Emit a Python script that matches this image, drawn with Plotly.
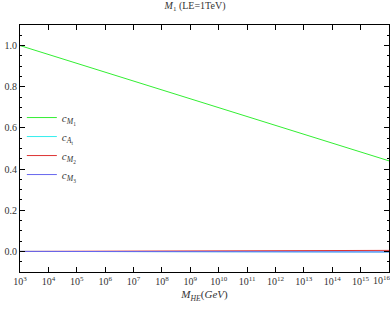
import plotly.graph_objects as go

log_mhe = [3, 5, 7, 9, 11, 13, 16]
c_M1 = [1.0, 0.914, 0.828, 0.742, 0.656, 0.570, 0.44]
c_At = [0.0, -0.0005, -0.001, -0.0015, -0.002, -0.0025, -0.003]
c_M2 = [0.0, 0.0006, 0.0013, 0.002, 0.003, 0.004, 0.005]
c_M3 = [0.0, -0.0004, -0.0008, -0.0012, -0.0016, -0.002, -0.0025]

x = [10 ** p for p in log_mhe]
tick_pows = list(range(3, 17))

FONT = "Liberation Serif"

fig = go.Figure()
series = [
    ("<i>c</i><sub><i>M</i><sub>1</sub></sub>", c_M1, "#33ee33"),
    ("<i>c</i><sub><i>A</i><sub>t</sub></sub>", c_At, "#33eeee"),
    ("<i>c</i><sub><i>M</i><sub>2</sub></sub>", c_M2, "#dd3333"),
    ("<i>c</i><sub><i>M</i><sub>3</sub></sub>", c_M3, "#6666ee"),
]
for name, ys, col in series:
    fig.add_trace(go.Scatter(x=x, y=ys, mode="lines", name=name,
                             line=dict(color=col, width=1)))

fig.update_layout(
    width=390, height=309,
    margin=dict(l=20, r=1, t=25, b=37),
    paper_bgcolor="white", plot_bgcolor="white",
    font=dict(family=FONT, size=10, color="#333"),
    title=dict(text="<i>M</i><sub>1</sub> (LE=1TeV)", x=0.5, xanchor="center",
               y=0.995, yanchor="top", font=dict(family=FONT, size=10, color="#333")),
    showlegend=True,
    legend=dict(x=0.005, y=0.684, xanchor="left", yanchor="top",
                bgcolor="rgba(0,0,0,0)", font=dict(family=FONT, size=11),
                tracegroupgap=0, itemwidth=30),
)
last = tick_pows[-1]
fig.update_xaxes(
    type="log", range=[3, 16],
    tickvals=[10 ** p for p in tick_pows[:-1]],
    ticktext=[f"10<sup>{p}</sup>" for p in tick_pows[:-1]],
    ticks="inside", ticklen=5, tickcolor="black",
    showline=True, linecolor="black", linewidth=1, mirror="ticks",
    showgrid=False, zeroline=False,
    minor=dict(ticks="inside", ticklen=2, tickcolor="black", showgrid=False),
    title=dict(text="<i>M</i><sub><i>HE</i></sub>(<i>GeV</i>)", standoff=4,
               font=dict(family=FONT, size=11)),
)
fig.add_annotation(x=1, xref="paper", y=0, yref="paper", yanchor="top", xanchor="left",
                   xshift=-17, yshift=-1, showarrow=False, text=f"10<sup>{last}</sup>",
                   borderpad=0, font=dict(family=FONT, size=10, color="#333"))
fig.update_yaxes(
    range=[-0.1, 1.1], dtick=0.2, tickformat=".1f",
    ticks="inside", ticklen=5, tickcolor="black",
    showline=True, linecolor="black", linewidth=1, mirror="ticks",
    showgrid=False, zeroline=False,
    minor=dict(ticks="inside", ticklen=2, dtick=0.05, tickcolor="black", showgrid=False),
)
fig.write_html("out.html", config={"displayModeBar": False},
               post_script="document.body.style.margin='0px';")
